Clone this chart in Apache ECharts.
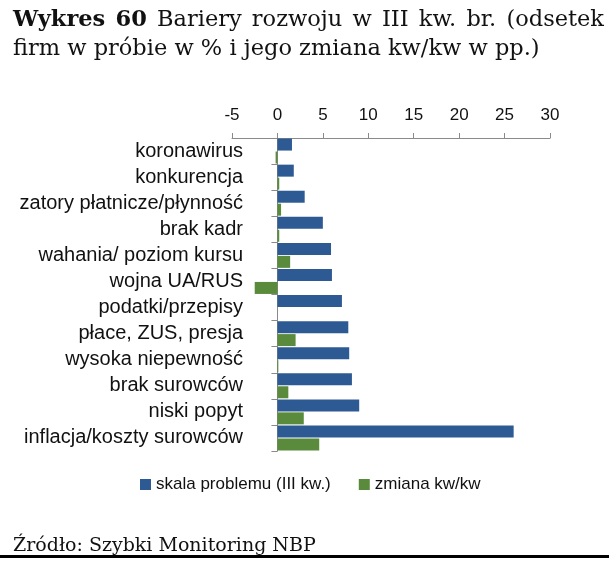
<!DOCTYPE html>
<html><head><meta charset="utf-8">
<script src="https://cdn.jsdelivr.net/npm/echarts@6/dist/echarts.min.js"></script>
<style>html,body{margin:0;padding:0;background:#fff}#c{width:609px;height:566px}</style>
</head><body><div id="c"></div>
<script>
const categories = ['koronawirus','konkurencja','zatory płatnicze/płynność','brak kadr','wahania/ poziom kursu','wojna UA/RUS','podatki/przepisy','płace, ZUS, presja','wysoka niepewność','brak surowców','niski popyt','inflacja/koszty surowców'];
const skala = [1.6, 1.8, 3.0, 5.0, 5.9, 6.0, 7.1, 7.8, 7.9, 8.2, 9.0, 26.0];
const zmiana = [-0.2, 0.2, 0.4, 0.2, 1.4, -2.5, 0.0, 2.0, 0.1, 1.2, 2.9, 4.6];
const xTicks = { min: -5, max: 30, interval: 5 };
const seriesNames = ['skala problemu (III kw.)', 'zmiana kw/kw'];

// justified first title line
const titleFont = '22.5px "DejaVu Serif"';
const titleBold = 'bold 22.5px "DejaVu Serif"';
const line1 = [['Wykres', true], ['60', true], ['Bariery', false], ['rozwoju', false], ['w', false], ['III', false], ['kw.', false], ['br.', false], ['(odsetek', false]];
const ctx = document.createElement('canvas').getContext('2d');
const widths = line1.map(([w, b]) => { ctx.font = b ? titleBold : titleFont; return ctx.measureText(w).width; });
const x0 = 13, x1 = 604;
const gap = (x1 - x0 - widths.reduce((a, b) => a + b, 0)) / (line1.length - 1);
const titleGraphics = [];
let cx = x0;
line1.forEach(([w, b], i) => {
  titleGraphics.push({ type: 'text', x: cx, y: 9, style: { text: w, font: b ? titleBold : titleFont, fill: '#111' } });
  cx += widths[i] + gap;
});

const chart = echarts.init(document.getElementById('c'), null, {renderer:'canvas'});
chart.setOption({
  animation: false,
  backgroundColor: '#fff',
  grid: { left: 232, right: 59, top: 138, height: 313, containLabel: false, outerBoundsMode: 'none' },
  xAxis: {
    type: 'value', position: 'top', min: xTicks.min, max: xTicks.max, interval: xTicks.interval,
    axisLine: { show: true, lineStyle: { color: '#8a8a8a', width: 1 } },
    axisTick: { show: true, length: 5, inside: false, lineStyle: { color: '#8a8a8a' } },
    axisLabel: { margin: 14, color: '#111', fontFamily: 'Liberation Sans', fontSize: 17 },
    splitLine: { show: false }
  },
  yAxis: {
    type: 'category', inverse: true, data: categories,
    axisLine: { show: true, onZero: true, lineStyle: { color: '#8a8a8a' } },
    axisTick: { show: true, length: 6, inside: false, lineStyle: { color: '#8a8a8a' } },
    axisLabel: { margin: -11, color: '#111', fontFamily: 'Liberation Sans', fontSize: 20 }
  },
  legend: {
    data: seriesNames, left: 135, top: 471, itemWidth: 11, itemHeight: 11, itemGap: 28,
    icon: 'rect', textStyle: { color: '#111', fontFamily: 'Liberation Sans', fontSize: 17 }
  },
  series: [
    { name: seriesNames[0], type: 'bar', data: skala, barWidth: 12, barGap: '8%', itemStyle: { color: '#2E5A94' } },
    { name: seriesNames[1], type: 'bar', data: zmiana, barWidth: 12, itemStyle: { color: '#5A8A3C' } }
  ],
  graphic: titleGraphics.concat([
    { type: 'text', x: 13, y: 38, style: { text: 'firm w próbie w % i jego zmiana kw/kw w pp.)', font: titleFont, fill: '#111' } },
    { type: 'text', x: 13, y: 537, style: { text: 'Źródło: Szybki Monitoring NBP', font: '19px "DejaVu Serif"', fill: '#111' } },
    { type: 'rect', shape: { x: 0, y: 555, width: 609, height: 3 }, style: { fill: '#000' } }
  ])
});
</script></body></html>
